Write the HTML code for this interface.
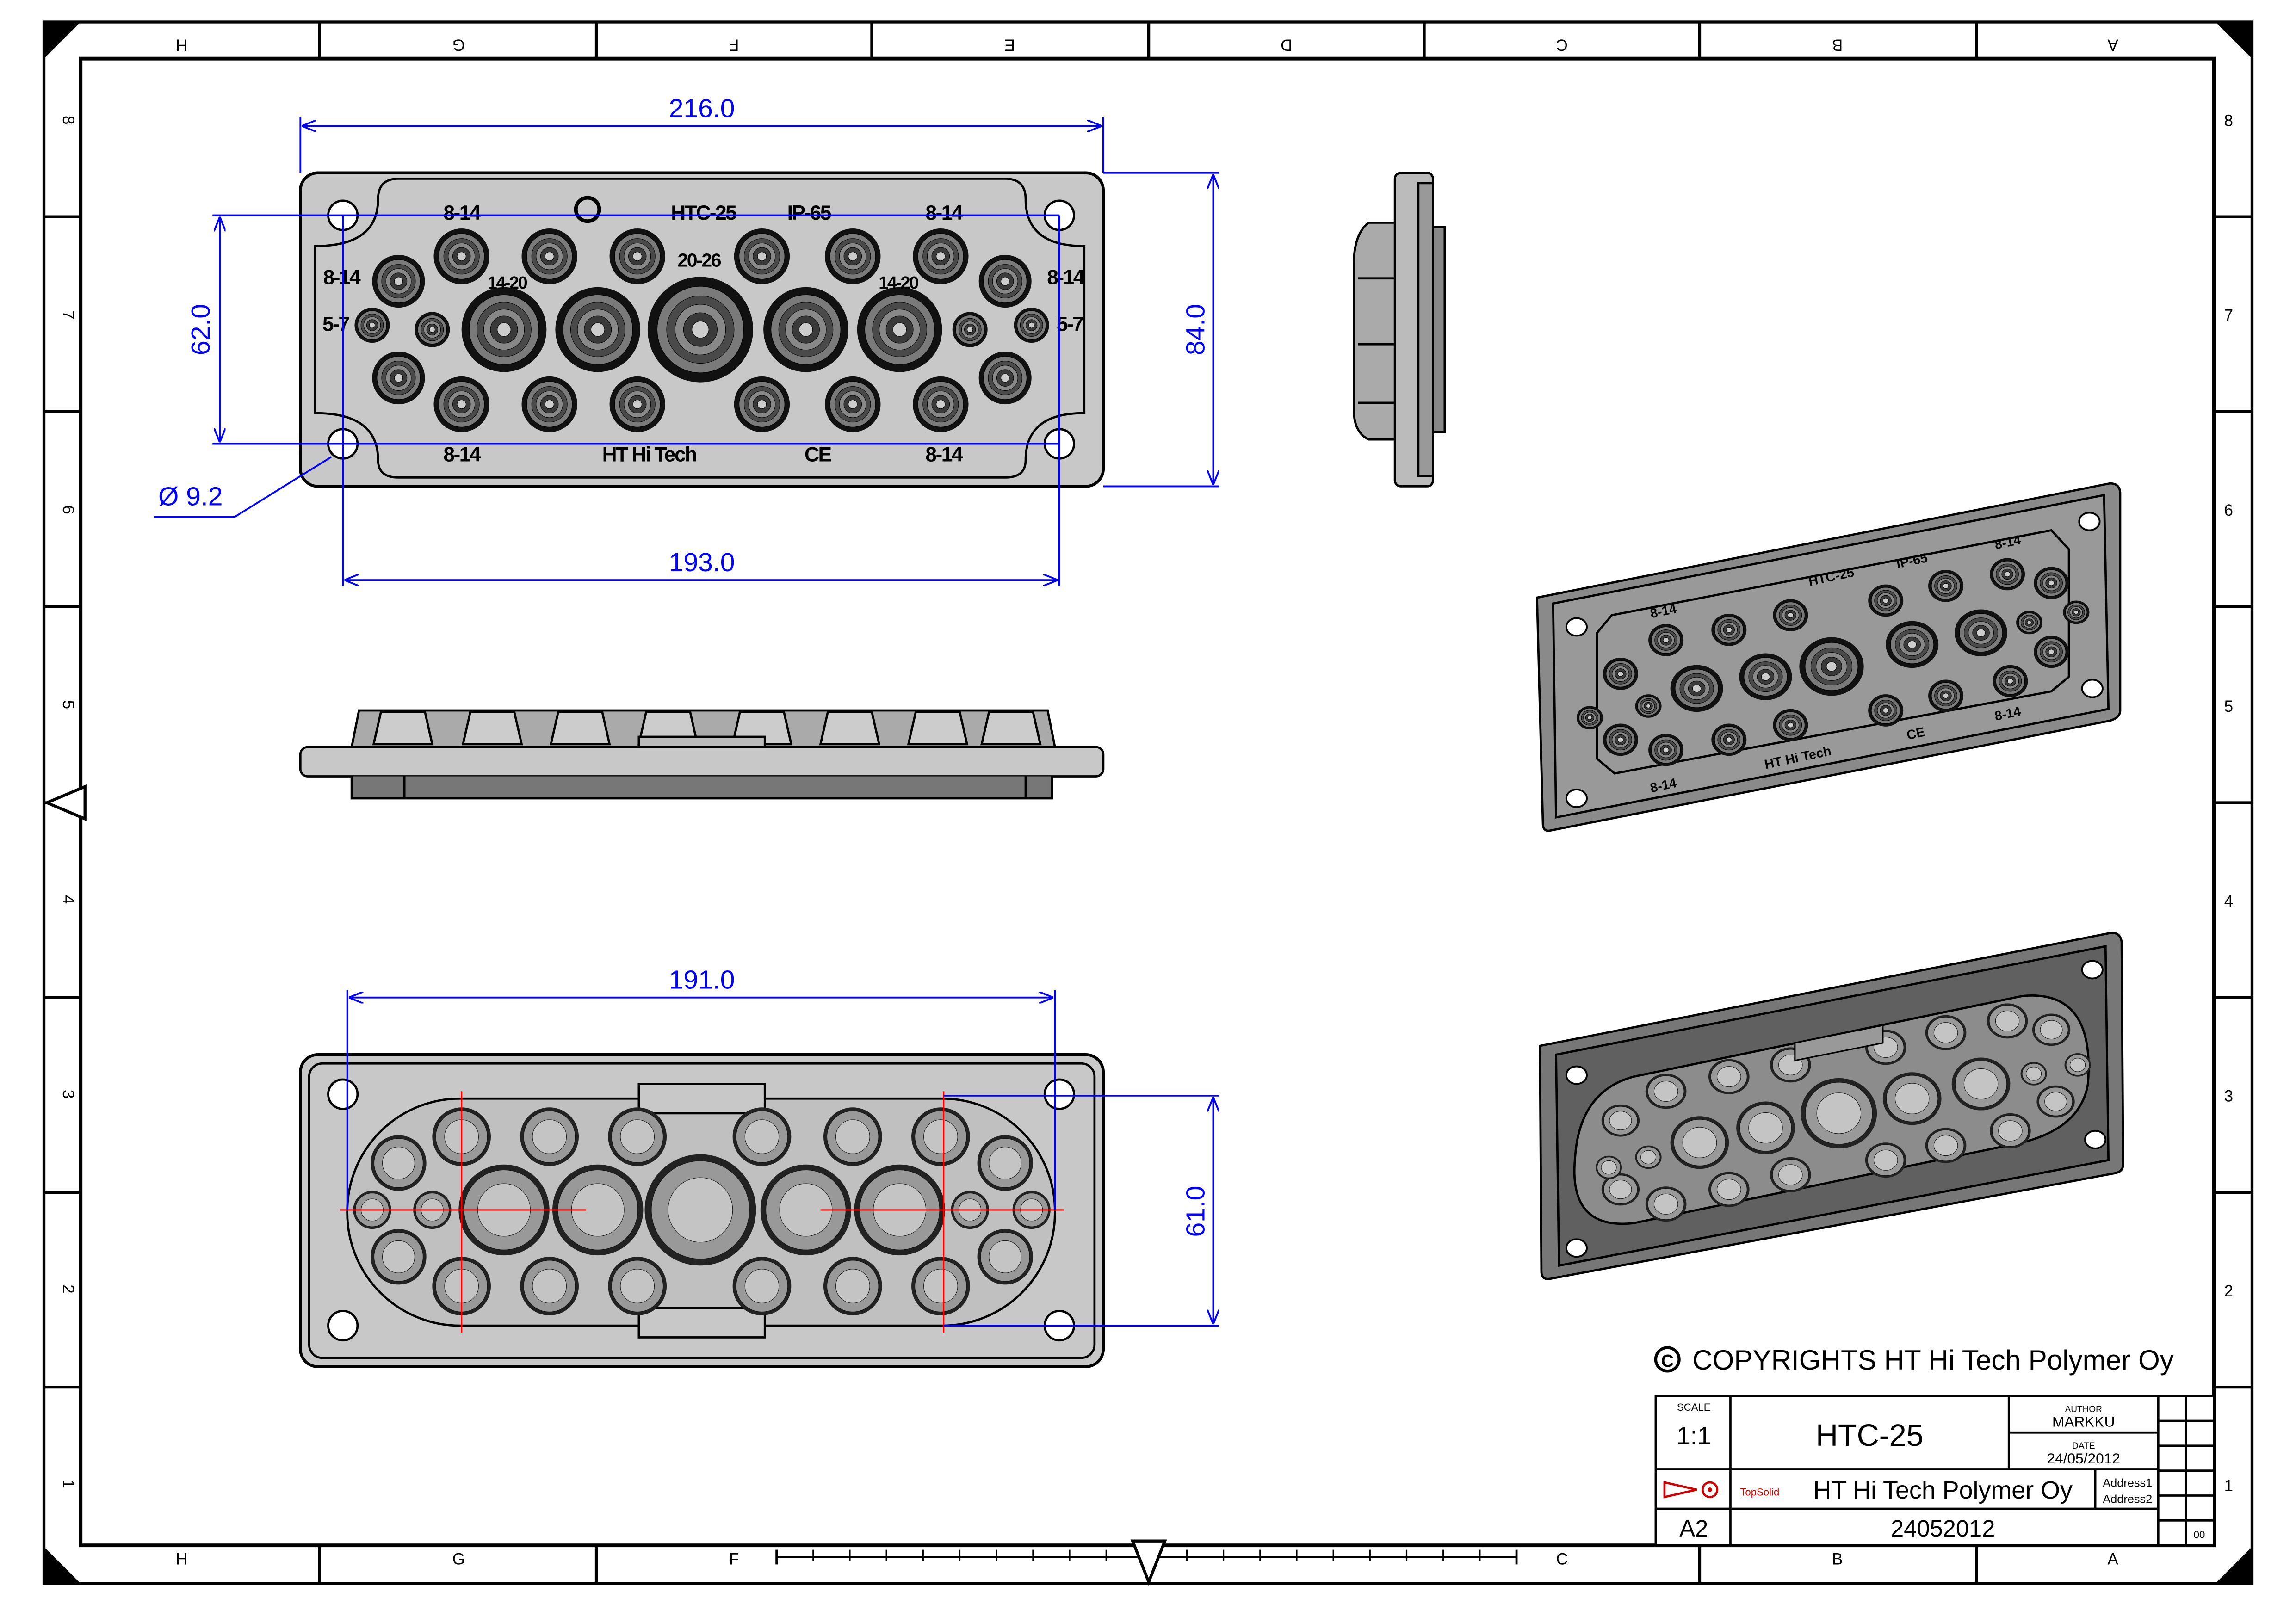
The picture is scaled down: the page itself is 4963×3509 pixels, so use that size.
<!DOCTYPE html>
<html><head><meta charset="utf-8"><style>
html,body{margin:0;padding:0;background:#fff}
svg{display:block}
text{font-family:"Liberation Sans",sans-serif}
</style></head><body>
<svg xmlns="http://www.w3.org/2000/svg" xmlns:xlink="http://www.w3.org/1999/xlink" width="4963" height="3509" viewBox="0 0 1567 1108" preserveAspectRatio="none" font-family="Liberation Sans, sans-serif">
<defs>
<g id="g">
<circle r="1" fill="#111"/>
<circle r="0.82" fill="#7a7a7a" stroke="#000" stroke-width="1.2" vector-effect="non-scaling-stroke"/>
<circle r="0.64" fill="#4a4a4a" stroke="#000" stroke-width="1" vector-effect="non-scaling-stroke"/>
<circle r="0.48" fill="#888" stroke="#000" stroke-width="1" vector-effect="non-scaling-stroke"/>
<circle r="0.32" fill="#3a3a3a" stroke="#000" stroke-width="1" vector-effect="non-scaling-stroke"/>
<circle r="0.16" fill="#ccc" stroke="#000" stroke-width="1" vector-effect="non-scaling-stroke"/>
</g>
<g id="b">
<circle r="1" fill="#222"/>
<circle r="0.88" fill="#999" stroke="#111" stroke-width="1" vector-effect="non-scaling-stroke"/>
<circle r="0.58" fill="#c4c4c4" stroke="#111" stroke-width="1" vector-effect="non-scaling-stroke"/>
</g>
<marker id="a" markerWidth="10" markerHeight="8" refX="9" refY="4" orient="auto-start-reverse" markerUnits="userSpaceOnUse"><path d="M0,0 L10,4 L0,8" fill="none" stroke="#00f" stroke-width="1.2"/></marker>
</defs>
<rect width="1567" height="1108" fill="#fff"/>
<rect x="30" y="15" width="1507" height="1066" fill="none" stroke="#000" stroke-width="2"/>
<rect x="55" y="40" width="1456" height="1015" fill="none" stroke="#000" stroke-width="2.5"/>
<path d="M30,15 h25 L30,40z M1537,15 h-25 L1537,40z M30,1081 h25 L30,1056z M1537,1081 h-25 L1537,1056z" fill="#000"/>
<g stroke="#000" stroke-width="2">
<path d="M218,15v25 M407,15v25 M595,15v25 M784,15v25 M972,15v25 M1160,15v25 M1349,15v25"/>
<path d="M218,1055v26 M407,1055v26 M1160,1055v26 M1349,1055v26"/>
<path d="M30,148h25 M30,281h25 M30,414h25 M30,548h25 M30,681h25 M30,814h25 M30,947h25"/>
<path d="M1511,148h26 M1511,281h26 M1511,414h26 M1511,548h26 M1511,681h26 M1511,814h26 M1511,947h26"/>
</g>
<path d="M530,1063h505 M530,1058v10 M1035,1058v10" stroke="#000" stroke-width="1.5"/>
<g stroke="#000" stroke-width="1"><path d="M555,1058v8 M580,1058v8 M605,1058v8 M630,1058v8 M655,1058v8 M680,1058v8 M705,1058v8 M730,1058v8 M755,1058v8 M810,1058v8 M835,1058v8 M860,1058v8 M885,1058v8 M910,1058v8 M935,1058v8 M960,1058v8 M985,1058v8 M1010,1058v8"/></g>
<path d="M773,1052h22l-11,28z" fill="#fff" stroke="#000" stroke-width="2"/>
<path d="M58,537v22l-26,-11z" fill="#fff" stroke="#000" stroke-width="2"/>
<g font-size="11" text-anchor="middle">
<g transform="rotate(180)">
<text x="-124" y="-27">H</text><text x="-313" y="-27">G</text><text x="-501" y="-27">F</text><text x="-689" y="-27">E</text><text x="-878" y="-27">D</text><text x="-1066" y="-27">C</text><text x="-1254" y="-27">B</text><text x="-1442" y="-27">A</text>
</g>
<text x="124" y="1068">H</text><text x="313" y="1068">G</text><text x="501" y="1068">F</text><text x="1066" y="1068">C</text><text x="1254" y="1068">B</text><text x="1442" y="1068">A</text>
<text x="1521" y="86">8</text><text x="1521" y="219">7</text><text x="1521" y="352">6</text><text x="1521" y="486">5</text><text x="1521" y="619">4</text><text x="1521" y="752">3</text><text x="1521" y="885">2</text><text x="1521" y="1018">1</text>
<g><text transform="translate(43,82) rotate(90)">8</text><text transform="translate(43,215) rotate(90)">7</text><text transform="translate(43,348) rotate(90)">6</text><text transform="translate(43,481) rotate(90)">5</text><text transform="translate(43,614) rotate(90)">4</text><text transform="translate(43,747) rotate(90)">3</text><text transform="translate(43,880) rotate(90)">2</text><text transform="translate(43,1013) rotate(90)">1</text></g>
</g>

<!-- TOP VIEW -->
<rect x="205" y="118" width="548" height="214" rx="12" fill="#c8c8c8" stroke="#000" stroke-width="2"/>
<path d="M272,122 H686 Q700,122 700,136 Q700,168 740,168 V282 Q700,282 700,314 Q700,326 686,326 H272 Q258,326 258,314 Q258,282 215,282 V168 Q258,168 258,136 Q258,122 272,122Z" fill="none" stroke="#000" stroke-width="1.5"/>
<g fill="#fff" stroke="#000" stroke-width="1.5"><circle cx="234" cy="147" r="10"/><circle cx="723" cy="147" r="10"/><circle cx="234" cy="303" r="10"/><circle cx="723" cy="303" r="10"/></g>
<g>
<use xlink:href="#g" transform="translate(315,175) scale(19)"/><use xlink:href="#g" transform="translate(375,175) scale(19)"/><use xlink:href="#g" transform="translate(435,175) scale(19)"/><use xlink:href="#g" transform="translate(520,175) scale(19)"/><use xlink:href="#g" transform="translate(582,175) scale(19)"/><use xlink:href="#g" transform="translate(642,175) scale(19)"/>
<use xlink:href="#g" transform="translate(315,276) scale(19)"/><use xlink:href="#g" transform="translate(375,276) scale(19)"/><use xlink:href="#g" transform="translate(435,276) scale(19)"/><use xlink:href="#g" transform="translate(520,276) scale(19)"/><use xlink:href="#g" transform="translate(582,276) scale(19)"/><use xlink:href="#g" transform="translate(642,276) scale(19)"/>
<use xlink:href="#g" transform="translate(272,192) scale(18)"/><use xlink:href="#g" transform="translate(686,192) scale(18)"/><use xlink:href="#g" transform="translate(272,258) scale(18)"/><use xlink:href="#g" transform="translate(686,258) scale(18)"/>
<use xlink:href="#g" transform="translate(254,222) scale(12)"/><use xlink:href="#g" transform="translate(295,225) scale(12)"/><use xlink:href="#g" transform="translate(662,225) scale(12)"/><use xlink:href="#g" transform="translate(704,222) scale(12)"/>
<use xlink:href="#g" transform="translate(344,225) scale(29)"/><use xlink:href="#g" transform="translate(408,225) scale(29)"/><use xlink:href="#g" transform="translate(550,225) scale(29)"/><use xlink:href="#g" transform="translate(614,225) scale(29)"/>
<use xlink:href="#g" transform="translate(478,225) scale(36)"/>
</g>
<g font-size="14" font-weight="bold" fill="#000" text-anchor="middle" font-family="Liberation Sans, sans-serif" letter-spacing="-0.8">
<text x="315" y="150">8-14</text><text x="480" y="150">HTC-25</text><text x="552" y="150">IP-65</text><text x="644" y="150">8-14</text>
<text x="233" y="194">8-14</text><text x="727" y="194">8-14</text><text x="229" y="226">5-7</text><text x="730" y="226">5-7</text>
<text x="346" y="197" font-size="12">14-20</text><text x="477" y="182" font-size="13">20-26</text><text x="613" y="197" font-size="12">14-20</text>
<text x="315" y="315">8-14</text><text x="443" y="315">HT Hi Tech</text><text x="558" y="315">CE</text><text x="644" y="315">8-14</text>
</g>
<circle cx="401" cy="143" r="8" fill="none" stroke="#000" stroke-width="2.5"/>
<g stroke="#00f" stroke-width="1.2" fill="none">
<path d="M205,118 V80 M753,118 V80"/><path d="M207,86 H751" marker-start="url(#a)" marker-end="url(#a)"/>
<path d="M753,118 H832 M753,332 H832"/><path d="M828,120 V330" marker-start="url(#a)" marker-end="url(#a)"/>
<path d="M234,147 H145 M234,303 H145 M234,147 H723 M234,303 H723"/><path d="M150,149 V301" marker-start="url(#a)" marker-end="url(#a)"/>
<path d="M234,147 V400 M723,147 V400"/><path d="M236,396 H721" marker-start="url(#a)" marker-end="url(#a)"/>
<path d="M105,353 H160 L226,312"/>
</g>
<g fill="#00f" font-size="18" text-anchor="middle">
<text x="479" y="80">216.0</text><text x="479" y="390">193.0</text><text x="130" y="345">Ø 9.2</text>
<text transform="translate(143,225) rotate(-90)">62.0</text><text transform="translate(822,225) rotate(-90)">84.0</text>
</g>

<!-- SIDE VIEW -->
<g stroke="#000" stroke-width="1.5" fill="#bbb">
<rect x="952" y="118" width="26" height="214" rx="4"/>
<rect x="968" y="125" width="10" height="200" fill="#999"/>
<path d="M952,152 H934 Q924,160 924,180 V280 Q924,295 934,300 H952Z" fill="#aaa"/>
<path d="M978,155 h8 v140 h-8z" fill="#888"/>
<path d="M927,190 H952 M927,235 H952 M927,275 H952" fill="none"/>
</g>
<!-- FRONT VIEW -->
<g stroke="#000" stroke-width="1.5">
<path d="M240,510 L245,485 H715 L720,510Z" fill="#aaa"/>
<g fill="#ccc"><path d="M255,508 l5,-22 h30 l5,22z M316,508 l5,-22 h30 l5,22z M376,508 l5,-22 h30 l5,22z M436,508 l5,-22 h30 l5,22z M500,508 l5,-22 h30 l5,22z M560,508 l5,-22 h30 l5,22z M620,508 l5,-22 h30 l5,22z M670,508 l5,-22 h30 l5,22z"/></g>
<rect x="205" y="510" width="548" height="20" rx="5" fill="#c8c8c8"/>
<rect x="436" y="503" width="86" height="7" fill="#bbb"/>
<path d="M240,530 V545 H718 V530" fill="#777"/>
<path d="M276,530 V545 M700,530 V545" fill="none"/>
</g>

<!-- BOTTOM VIEW -->
<rect x="205" y="720" width="548" height="213" rx="12" fill="#c8c8c8" stroke="#000" stroke-width="2"/>
<rect x="211" y="726" width="536" height="201" rx="9" fill="none" stroke="#000" stroke-width="1.5"/>
<rect x="237" y="750" width="483" height="155" rx="77" fill="#c0c0c0" stroke="#000" stroke-width="1.5"/>
<rect x="436" y="740" width="86" height="20" fill="#c8c8c8" stroke="#000" stroke-width="1.5"/>
<rect x="436" y="893" width="86" height="20" fill="#c8c8c8" stroke="#000" stroke-width="1.5"/>
<g fill="#fff" stroke="#000" stroke-width="1.5"><circle cx="234" cy="747" r="10"/><circle cx="723" cy="747" r="10"/><circle cx="234" cy="905" r="10"/><circle cx="723" cy="905" r="10"/></g>
<g>
<use xlink:href="#b" transform="translate(315,776) scale(20)"/><use xlink:href="#b" transform="translate(375,776) scale(20)"/><use xlink:href="#b" transform="translate(435,776) scale(20)"/><use xlink:href="#b" transform="translate(520,776) scale(20)"/><use xlink:href="#b" transform="translate(582,776) scale(20)"/><use xlink:href="#b" transform="translate(642,776) scale(20)"/>
<use xlink:href="#b" transform="translate(315,878) scale(20)"/><use xlink:href="#b" transform="translate(375,878) scale(20)"/><use xlink:href="#b" transform="translate(435,878) scale(20)"/><use xlink:href="#b" transform="translate(520,878) scale(20)"/><use xlink:href="#b" transform="translate(582,878) scale(20)"/><use xlink:href="#b" transform="translate(642,878) scale(20)"/>
<use xlink:href="#b" transform="translate(272,794) scale(19)"/><use xlink:href="#b" transform="translate(686,794) scale(19)"/><use xlink:href="#b" transform="translate(272,858) scale(19)"/><use xlink:href="#b" transform="translate(686,858) scale(19)"/>
<use xlink:href="#b" transform="translate(254,826) scale(13)"/><use xlink:href="#b" transform="translate(295,826) scale(13)"/><use xlink:href="#b" transform="translate(662,826) scale(13)"/><use xlink:href="#b" transform="translate(704,826) scale(13)"/>
<use xlink:href="#b" transform="translate(344,826) scale(31)"/><use xlink:href="#b" transform="translate(408,826) scale(31)"/><use xlink:href="#b" transform="translate(550,826) scale(31)"/><use xlink:href="#b" transform="translate(614,826) scale(31)"/>
<use xlink:href="#b" transform="translate(478,826) scale(38)"/>
</g>
<g stroke="#f00" stroke-width="1"><path d="M315,745 V910 M644,745 V910 M232,826 H400 M560,826 H726"/></g>
<g stroke="#00f" stroke-width="1.2" fill="none">
<path d="M237,826 V676 M720,826 V676"/><path d="M239,681 H718" marker-start="url(#a)" marker-end="url(#a)"/>
<path d="M644,748 H832 M644,905 H832"/><path d="M828,750 V903" marker-start="url(#a)" marker-end="url(#a)"/>
</g>
<g fill="#00f" font-size="18" text-anchor="middle"><text x="479" y="675">191.0</text><text transform="translate(822,827) rotate(-90)">61.0</text></g>

<!-- ISO 1 -->
<g stroke="#000" stroke-width="1.5">
<path d="M1049,408 L1440,330 Q1447,330 1447,337 L1447,485 Q1447,490 1440,492 L1058,567 Q1053,568 1053,562Z" fill="#8a8a8a"/>
<path d="M1060,412 L1436,338 L1439,484 L1062,558Z" fill="#999"/>
<path d="M1100,420 L1400,362 L1412,375 L1412,462 L1400,472 L1102,528 L1090,518 L1090,432Z" fill="none"/>
</g>
<g>
<use xlink:href="#g" transform="translate(1250,455) scale(22 20)"/>
<use xlink:href="#g" transform="translate(1158,470) scale(18 16)"/><use xlink:href="#g" transform="translate(1205,462) scale(18 16)"/><use xlink:href="#g" transform="translate(1305,440) scale(18 16)"/><use xlink:href="#g" transform="translate(1352,432) scale(18 16)"/>
<use xlink:href="#g" transform="translate(1137,437) scale(12 11)"/><use xlink:href="#g" transform="translate(1180,430) scale(12 11)"/><use xlink:href="#g" transform="translate(1222,420) scale(12 11)"/><use xlink:href="#g" transform="translate(1287,410) scale(12 11)"/><use xlink:href="#g" transform="translate(1328,400) scale(12 11)"/><use xlink:href="#g" transform="translate(1370,392) scale(12 11)"/>
<use xlink:href="#g" transform="translate(1137,512) scale(12 11)"/><use xlink:href="#g" transform="translate(1180,505) scale(12 11)"/><use xlink:href="#g" transform="translate(1222,495) scale(12 11)"/><use xlink:href="#g" transform="translate(1287,485) scale(12 11)"/><use xlink:href="#g" transform="translate(1328,475) scale(12 11)"/><use xlink:href="#g" transform="translate(1372,465) scale(12 11)"/>
<use xlink:href="#g" transform="translate(1106,460) scale(12 11)"/><use xlink:href="#g" transform="translate(1106,505) scale(12 11)"/><use xlink:href="#g" transform="translate(1400,398) scale(12 11)"/><use xlink:href="#g" transform="translate(1400,445) scale(12 11)"/>
<use xlink:href="#g" transform="translate(1385,425) scale(9 8)"/><use xlink:href="#g" transform="translate(1417,418) scale(9 8)"/><use xlink:href="#g" transform="translate(1085,490) scale(9 8)"/><use xlink:href="#g" transform="translate(1125,482) scale(9 8)"/>
</g>
<g fill="#fff" stroke="#000" stroke-width="1.2"><ellipse cx="1076" cy="428" rx="7" ry="6"/><ellipse cx="1426" cy="356" rx="7" ry="6"/><ellipse cx="1076" cy="545" rx="7" ry="6"/><ellipse cx="1428" cy="470" rx="7" ry="6"/></g>
<g font-size="9" font-weight="bold" fill="#000" font-family="Liberation Sans, sans-serif">
<text transform="translate(1235,400) rotate(-12)">HTC-25</text><text transform="translate(1295,388) rotate(-12)">IP-65</text><text transform="translate(1205,525) rotate(-12)">HT Hi Tech</text><text transform="translate(1302,505) rotate(-12)">CE</text>
<text transform="translate(1127,422) rotate(-12)">8-14</text><text transform="translate(1362,375) rotate(-12)">8-14</text><text transform="translate(1127,541) rotate(-12)">8-14</text><text transform="translate(1362,492) rotate(-12)">8-14</text>
</g>
<!-- ISO 2 -->
<g stroke="#000" stroke-width="1.5">
<path d="M1051,714 L1440,637 Q1447,636 1448,643 L1449,795 Q1449,800 1443,801 L1058,873 Q1052,874 1052,868Z" fill="#777"/>
<path d="M1062,720 L1437,646 L1439,792 L1064,864Z" fill="#606060"/>
<path d="M1115,735 L1380,680 Q1430,675 1425,740 Q1420,770 1380,780 L1115,835 Q1070,840 1075,790 Q1078,745 1115,735Z" fill="#8c8c8c"/>
</g>
<g>
<use xlink:href="#b" transform="translate(1255,760) scale(26 24)"/>
<use xlink:href="#b" transform="translate(1160,780) scale(20 18)"/><use xlink:href="#b" transform="translate(1205,770) scale(20 18)"/><use xlink:href="#b" transform="translate(1305,750) scale(20 18)"/><use xlink:href="#b" transform="translate(1352,740) scale(20 18)"/>
<use xlink:href="#b" transform="translate(1137,745) scale(14 12)"/><use xlink:href="#b" transform="translate(1180,735) scale(14 12)"/><use xlink:href="#b" transform="translate(1222,727) scale(14 12)"/><use xlink:href="#b" transform="translate(1287,715) scale(14 12)"/><use xlink:href="#b" transform="translate(1328,705) scale(14 12)"/><use xlink:href="#b" transform="translate(1370,697) scale(14 12)"/>
<use xlink:href="#b" transform="translate(1137,822) scale(14 12)"/><use xlink:href="#b" transform="translate(1180,812) scale(14 12)"/><use xlink:href="#b" transform="translate(1222,802) scale(14 12)"/><use xlink:href="#b" transform="translate(1287,792) scale(14 12)"/><use xlink:href="#b" transform="translate(1328,782) scale(14 12)"/><use xlink:href="#b" transform="translate(1372,772) scale(14 12)"/>
<use xlink:href="#b" transform="translate(1106,765) scale(13 11)"/><use xlink:href="#b" transform="translate(1106,812) scale(13 11)"/><use xlink:href="#b" transform="translate(1400,703) scale(13 11)"/><use xlink:href="#b" transform="translate(1403,752) scale(13 11)"/>
<use xlink:href="#b" transform="translate(1388,733) scale(9 8)"/><use xlink:href="#b" transform="translate(1418,727) scale(9 8)"/><use xlink:href="#b" transform="translate(1098,797) scale(9 8)"/><use xlink:href="#b" transform="translate(1125,790) scale(9 8)"/>
</g>
<path d="M1225,712 L1285,700 L1285,712 L1225,724Z" fill="#999" stroke="#000"/>
<g fill="#fff" stroke="#000" stroke-width="1.2"><ellipse cx="1076" cy="734" rx="7" ry="6"/><ellipse cx="1428" cy="662" rx="7" ry="6"/><ellipse cx="1076" cy="852" rx="7" ry="6"/><ellipse cx="1430" cy="778" rx="7" ry="6"/></g>

<circle cx="1138" cy="928" r="8" fill="none" stroke="#000" stroke-width="2"/>
<text x="1138" y="933" font-size="12" font-weight="bold" text-anchor="middle">C</text>
<text x="1155" y="935" font-size="19">COPYRIGHTS HT Hi Tech Polymer Oy</text>

<g stroke="#000" stroke-width="1.5" fill="none">
<rect x="1130" y="953" width="381" height="102" fill="#fff"/>
<path d="M1130,1003 H1473 M1130,1030 H1473 M1181,953 V1055 M1371,953 V1003 M1430,1003 V1030 M1473,953 V1055 M1371,978 H1473"/>
<path d="M1473,970 H1511 M1473,987 H1511 M1473,1004 H1511 M1473,1021 H1511 M1473,1038 H1511 M1492,953 V1055"/>
</g>
<g text-anchor="middle">
<text x="1156" y="963" font-size="7">SCALE</text><text x="1156" y="986" font-size="17">1:1</text>
<text x="1276" y="987" font-size="21">HTC-25</text>
<text x="1422" y="964" font-size="6">AUTHOR</text><text x="1422" y="974" font-size="10">MARKKU</text>
<text x="1422" y="989" font-size="6">DATE</text><text x="1422" y="999" font-size="10">24/05/2012</text>
<text x="1326" y="1023" font-size="17">HT Hi Tech Polymer Oy</text>
<text x="1452" y="1015" font-size="8">Address1</text><text x="1452" y="1026" font-size="8">Address2</text>
<text x="1156" y="1049" font-size="16">A2</text><text x="1326" y="1049" font-size="16">24052012</text>
<text x="1501" y="1050" font-size="7">00</text>
<text x="1201" y="1021" font-size="7" fill="#c00">TopSolid</text>
</g>
<path d="M1136,1012 L1158,1017 L1136,1022Z" fill="none" stroke="#c00" stroke-width="1.5"/>
<circle cx="1167" cy="1017" r="5" fill="none" stroke="#c00" stroke-width="1.5"/>
<circle cx="1167" cy="1017" r="1.5" fill="#c00"/>
</svg>
</body></html>
